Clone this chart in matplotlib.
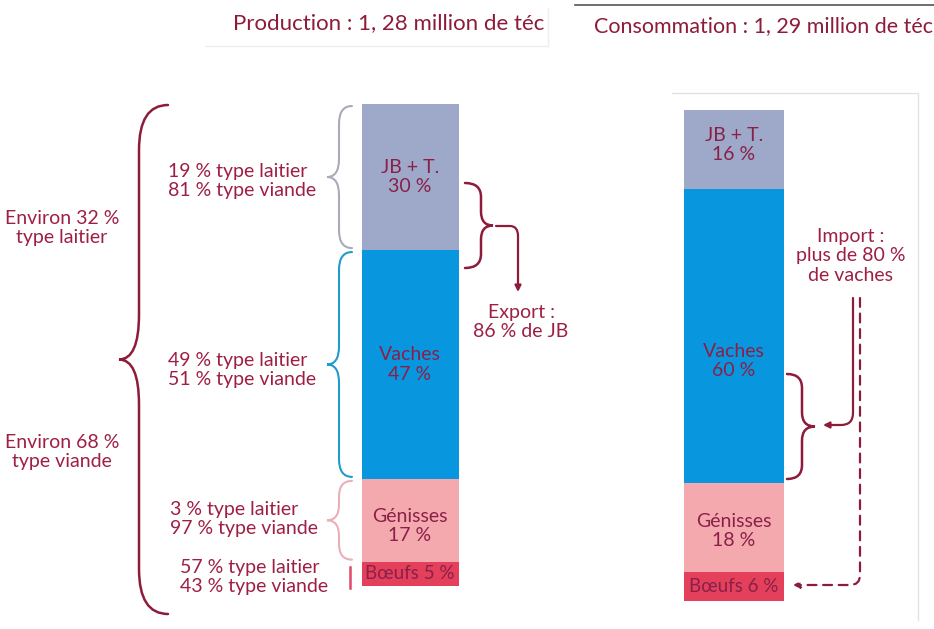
import numpy as np
import matplotlib
matplotlib.use("Agg")
from matplotlib import pyplot as plt
from matplotlib.path import Path
from matplotlib.patches import PathPatch, FancyArrowPatch

plt.rcParams['font.family'] = ['Lato', 'DejaVu Sans']

# data
segments = ["JB + T.", "Vaches", "Génisses", "Bœufs"]
prod_share = [30, 47, 17, 5]
cons_share = [16, 60, 18, 6]
prod_title = "Production : 1, 28 million de téc"
cons_title = "Consommation : 1, 29 million de téc"
prod_detail = [("19 % type laitier", "81 % type viande"),
               ("49 % type laitier", "51 % type viande"),
               ("3 % type laitier", "97 % type viande"),
               ("57 % type laitier", "43 % type viande")]
overall = [("Environ 32 %", "type laitier"), ("Environ 68 %", "type viande")]

seg_colors = ["#9ea8c8", "#0897df", "#f4a9ae", "#e4405c"]
txt = "#9e1f44"
dark = "#8c1c3a"
FS = 14
LS = 1.15

W, H = 934, 629
fig = plt.figure(figsize=(W / 100, H / 100), dpi=100)
fig.patch.set_facecolor("white")

# overlay in pixel coords
ov = fig.add_axes([0, 0, 1, 1])
ov.set_xlim(0, W)
ov.set_ylim(H, 0)
ov.axis("off")


def bar_axes(top_px, bot_px, total):
    a = fig.add_axes([0, 0, 1, 1])
    a.patch.set_alpha(0)
    a.axis("off")
    scale = (bot_px - top_px) / total
    a.set_xlim(0, W)
    a.set_ylim((H - top_px) / scale, -top_px / scale)
    return a, lambda v: top_px + v * scale


def draw_bar(a, xc, width, shares, label_dy, single_line):
    bottoms = np.concatenate([[0], np.cumsum(shares)[:-1]])
    a.bar(xc, shares, bottom=bottoms, width=width, color=seg_colors,
          edgecolor="none")
    for i, (name, v, b) in enumerate(zip(segments, shares, bottoms)):
        one = i == single_line
        lab = f"{name} {v} %" if one else f"{name}\n{v} %"
        a.text(xc, b + v / 2 + label_dy[i], lab, ha="center", va="center",
               color="#8a2048", fontsize=13.5 if one else FS, linespacing=LS)
    return bottoms


def brace(x, y0, y1, tip, end, color, lw=1.6, r=12):
    ym = (y0 + y1) / 2
    verts = [(end, y0), (x, y0), (x, y0 + r), (x, ym - r), (x, ym), (tip, ym),
             (x, ym), (x, ym + r), (x, y1 - r), (x, y1), (end, y1)]
    codes = [Path.MOVETO, Path.CURVE3, Path.CURVE3, Path.LINETO, Path.CURVE3,
             Path.CURVE3, Path.CURVE3, Path.CURVE3, Path.LINETO, Path.CURVE3,
             Path.CURVE3]
    ov.add_patch(PathPatch(Path(verts, codes), fill=False, edgecolor=color,
                           lw=lw, capstyle="round"))


def arrow(verts, codes, ls="-"):
    ov.add_patch(FancyArrowPatch(path=Path(verts, codes), arrowstyle="-|>",
                                 mutation_scale=9, color=dark, lw=1.6,
                                 linestyle=ls, shrinkA=0, shrinkB=0))


# production bar
ax_p, py = bar_axes(104, 586, sum(prod_share))
b_p = draw_bar(ax_p, 410, 97, prod_share, [0, 0, 1.2, 0], 3)

# consumption bar
ax_c, cy = bar_axes(110, 601, sum(cons_share))
b_c = draw_bar(ax_c, 734, 100, cons_share, [-0.8, 5.2, 0.8, 0], 3)

# titles
ov.text(389, 23, prod_title, ha="center", va="center", color=dark, fontsize=16)
ov.text(764, 26, cons_title, ha="center", va="center", color=dark, fontsize=15.5)
ov.plot([575, W], [5, 5], color="#555555", lw=1.2)
ov.plot([205, 548], [46, 46], color="#eeeeee", lw=1)
ov.plot([548, 548], [8, 46], color="#eeeeee", lw=1)
ov.plot([672, 918, 918], [93, 93, 620], color="#e2e2e2", lw=1)

# left braces per segment
brace_cols = ["#a9acb8", "#1f9ccc", "#eab0b8"]
for i, col in enumerate(brace_cols):
    top = py(b_p[i]) + 2
    bot = py(b_p[i] + prod_share[i]) - 2
    brace(339, top, bot, 327, 352, col, lw=1.5, r=min(18, (bot - top) / 5))
ov.plot([350, 350], [py(b_p[3]) + 5, py(b_p[3] + prod_share[3]) + 2],
        color="#e04868", lw=1.8)

# detail texts
detail_y = [181, 370, 519, 577]
detail_x = [168, 168, 170, 180]
for (l1, l2), x, y in zip(prod_detail, detail_x, detail_y):
    ov.text(x, y, f"{l1}\n{l2}", ha="left", va="center", color=txt,
            fontsize=FS, linespacing=LS)

# big brace
brace(139, 105, 614, 119, 168, dark, lw=1.8, r=45)
ov.text(62, 228, "\n".join(overall[0]), ha="center", va="center", color=txt,
        fontsize=FS, linespacing=LS)
ov.text(62, 452, "\n".join(overall[1]), ha="center", va="center", color=txt,
        fontsize=FS, linespacing=LS)

# export
brace(481, 183, 268, 493, 465, dark, lw=1.8, r=14)
arrow([(496, 226), (510, 226), (518, 226), (518, 236), (518, 292)],
      [Path.MOVETO, Path.LINETO, Path.CURVE3, Path.CURVE3, Path.LINETO])
ov.text(521, 322, "Export :\n86 % de JB", ha="center", va="center",
        color=txt, fontsize=FS, linespacing=LS)

# import
brace(802, 374, 479, 815, 787, dark, lw=1.8, r=14)
ov.text(851, 256, "Import :\nplus de 80 %\nde vaches", ha="center",
        va="center", color=txt, fontsize=FS, linespacing=LS)
arrow([(853, 298), (853, 413), (853, 425), (841, 425), (823, 425)],
      [Path.MOVETO, Path.LINETO, Path.CURVE3, Path.CURVE3, Path.LINETO])
arrow([(860, 298), (860, 575), (860, 585), (850, 585), (793, 585)],
      [Path.MOVETO, Path.LINETO, Path.CURVE3, Path.CURVE3, Path.LINETO],
      ls=(0, (4, 3)))

fig.savefig("out.png", dpi=100)
